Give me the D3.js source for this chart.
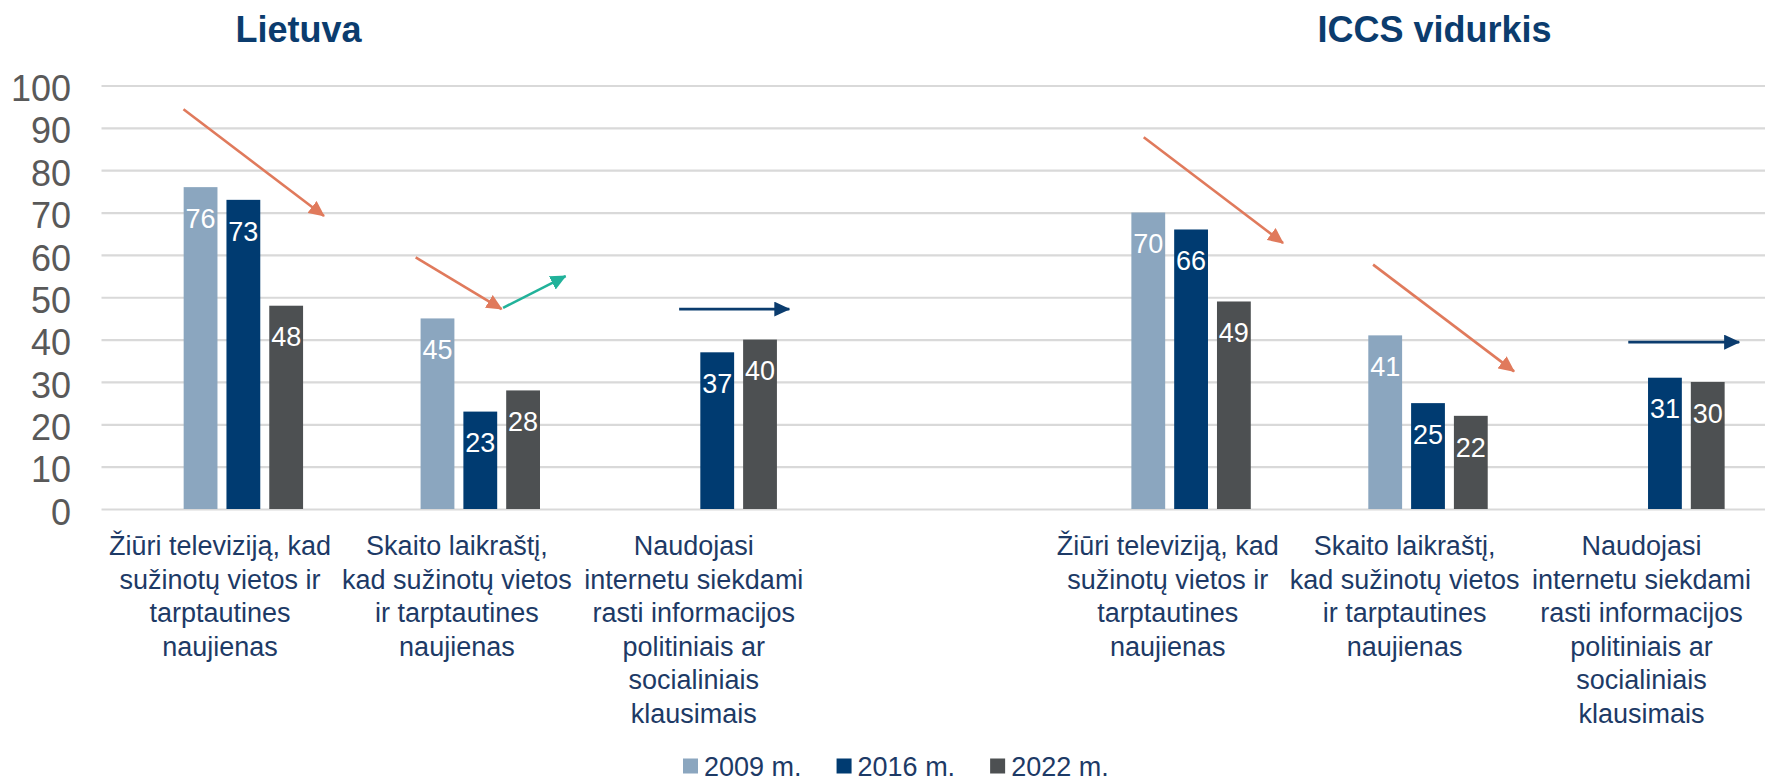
<!DOCTYPE html>
<html>
<head>
<meta charset="utf-8">
<script src="https://cdn.jsdelivr.net/npm/d3@7"></script>
<style>
  html, body { margin: 0; padding: 0; background: #fff; }
  svg { display: block; font-family: "Liberation Sans", Arial, sans-serif; }
</style>
</head>
<body>
<script>
// chart values
const panels = ["Lietuva", "ICCS vidurkis"];
const years = ["2009 m.", "2016 m.", "2022 m."];
const catLines = [
  ["Žiūri televiziją, kad", "sužinotų vietos ir", "tarptautines", "naujienas"],
  ["Skaito laikraštį,", "kad sužinotų vietos", "ir tarptautines", "naujienas"],
  ["Naudojasi", "internetu siekdami", "rasti informacijos", "politiniais ar", "socialiniais", "klausimais"]
];
const lt2009 = [76, 45, null];
const lt2016 = [73, 23, 37];
const lt2022 = [48, 28, 40];
const iccs2009 = [70, 41, null];
const iccs2016 = [66, 25, 31];
const iccs2022 = [49, 22, 30];
const yTicks = [0, 10, 20, 30, 40, 50, 60, 70, 80, 90, 100];

// trend arrows: band key, position inside band (0..1), value at start / end
const arrows = [
  { key: "L0", f0: 0.346, v0: 94.4, f1: 0.939, v1: 69.2, c: "down" },
  { key: "L1", f0: 0.326, v0: 59.4, f1: 0.689, v1: 47.2, c: "down" },
  { key: "L1", f0: 0.695, v0: 47.5, f1: 0.959, v1: 55.0, c: "up" },
  { key: "L2", f0: 0.438, v0: 47.2, f1: 0.903, v1: 47.2, c: "same" },
  { key: "I0", f0: 0.399, v0: 87.8, f1: 0.987, v1: 62.8, c: "down" },
  { key: "I1", f0: 0.367, v0: 57.7, f1: 0.962, v1: 32.5, c: "down" },
  { key: "I2", f0: 0.444, v0: 39.4, f1: 0.912, v1: 39.4, c: "same" }
];

const W = 1765, H = 782;
const barColors = { "2009 m.": "#8ba6bf", "2016 m.": "#003b71", "2022 m.": "#4d5052" };
const arrowColors = { down: "#e07a5c", up: "#21b29a", same: "#0b3c6e" };
const textBlue = "#1d3a66";

// build rows from the arrays
const series = { "Lietuva": [lt2009, lt2016, lt2022], "ICCS vidurkis": [iccs2009, iccs2016, iccs2022] };
const keys = ["L0", "L1", "L2", "gap", "I0", "I1", "I2"];
const rows = [];
panels.forEach((p, pi) => {
  catLines.forEach((lines, ci) => {
    const key = (pi === 0 ? "L" : "I") + ci;
    rows.push({ key, lines, values: years.map((yr, yi) => ({ year: yr, v: series[p][yi][ci] })) });
  });
});

const svg = d3.select("body").append("svg").attr("width", W).attr("height", H);

const x = d3.scaleBand().domain(keys).range([101.5, 1760]);
// first slot is an empty series, as in the original cluster
const inner = d3.scaleBand().domain(["_"].concat(years))
  .range([-2 * 42.8 + 2, 2 * 42.8 + 2]).paddingInner(0.21).paddingOuter(0.105);
const y = d3.scaleLinear().domain([0, 100]).range([509, 85.5]);

// gridlines
const grid = svg.append("g").attr("transform", "translate(101.5,0)")
  .call(d3.axisLeft(y).tickValues(yTicks).tickSize(-(1765 - 101.5)).tickFormat(""));
grid.select(".domain").remove();
grid.selectAll("line").attr("stroke", "#d9d9d9").attr("stroke-width", 2.2);

// y labels
const yAx = svg.append("g").attr("transform", "translate(71,0)")
  .call(d3.axisLeft(y).tickValues(yTicks).tickSize(0).tickPadding(0));
yAx.select(".domain").remove();
yAx.selectAll("text").attr("fill", "#595959").attr("font-size", 36)
  .attr("font-family", "'Liberation Sans', Arial, sans-serif").attr("dy", "0.42em");

// bars
const groups = svg.append("g").selectAll("g").data(rows).join("g")
  .attr("transform", d => `translate(${x(d.key) + x.bandwidth() / 2},0)`);

groups.selectAll("rect").data(d => d.values.filter(e => e.v != null)).join("rect")
  .attr("x", e => inner(e.year))
  .attr("width", inner.bandwidth())
  .attr("y", e => y(e.v))
  .attr("height", e => y(0) - y(e.v))
  .attr("fill", e => barColors[e.year]);

groups.selectAll("text.val").data(d => d.values.filter(e => e.v != null)).join("text")
  .attr("class", "val")
  .attr("x", e => inner(e.year) + inner.bandwidth() / 2)
  .attr("y", e => y(e.v) + 31)
  .attr("dy", "0.36em")
  .attr("text-anchor", "middle")
  .attr("fill", "#fff")
  .attr("font-size", 27)
  .text(e => e.v);

// category labels
groups.append("text")
  .attr("text-anchor", "middle")
  .attr("fill", textBlue)
  .attr("font-size", 27)
  .selectAll("tspan").data(d => d.lines).join("tspan")
  .attr("x", 0)
  .attr("y", (l, i) => 555 + i * 33.5)
  .text(l => l);

// arrows
const defs = svg.append("defs");
Object.entries(arrowColors).forEach(([k, col]) => {
  defs.append("marker").attr("id", "ah-" + k)
    .attr("viewBox", "0 0 16 15").attr("refX", 15).attr("refY", 7.5)
    .attr("markerWidth", 16).attr("markerHeight", 15)
    .attr("markerUnits", "userSpaceOnUse").attr("orient", "auto")
    .append("path").attr("d", "M0,0 L16,7.5 L0,15 Z").attr("fill", col);
});
svg.append("g").selectAll("line").data(arrows).join("line")
  .attr("x1", a => x(a.key) + a.f0 * x.bandwidth())
  .attr("y1", a => y(a.v0))
  .attr("x2", a => x(a.key) + a.f1 * x.bandwidth())
  .attr("y2", a => y(a.v1))
  .attr("stroke", a => arrowColors[a.c])
  .attr("stroke-width", 2.6)
  .attr("marker-end", a => `url(#ah-${a.c})`);

// panel titles
svg.append("g").selectAll("text").data(panels).join("text")
  .attr("x", (p, i) => [298.5, 1434.5][i])
  .attr("y", 42)
  .attr("text-anchor", "middle")
  .attr("font-size", 36)
  .attr("font-weight", "bold")
  .attr("fill", "#0b3c6e")
  .text(p => p);

// legend
const leg = svg.append("g").attr("transform", "translate(683,766)");
let lx = 0;
years.forEach(yr => {
  const g = leg.append("g").attr("transform", `translate(${lx},0)`);
  g.append("rect").attr("x", 0).attr("y", -7.5).attr("width", 15).attr("height", 15).attr("fill", barColors[yr]);
  const t = g.append("text").attr("x", 21).attr("y", 10).attr("font-size", 27).attr("fill", textBlue).text(yr);
  lx += 21 + t.node().getComputedTextLength() + 35;
});
</script>
</body>
</html>
